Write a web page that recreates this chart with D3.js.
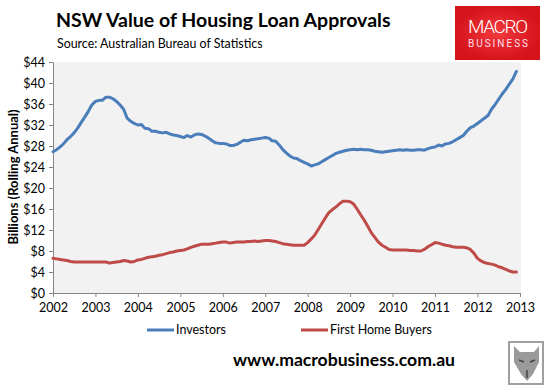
<!DOCTYPE html>
<html>
<head>
<meta charset="utf-8">
<script src="https://cdn.jsdelivr.net/npm/d3@7"></script>
<style>
  body { margin: 0; background: #fff; }
  svg { font-family: Lato, "Open Sans", sans-serif; }
</style>
</head>
<body>
<svg width="550" height="385"></svg>
<script>
// monthly values, Jan 2002 .. Dec 2012 ($ billions, rolling annual)
var investors = [
  26.9, 27.3, 27.8, 28.4, 29.2, 29.8, 30.5, 31.4, 32.5, 33.5, 34.6, 35.8,
  36.5, 36.7, 36.7, 37.3, 37.3, 37.0, 36.5, 35.8, 35.0, 33.3, 32.7, 32.3,
  32.0, 32.1, 31.4, 31.3, 30.8, 30.8, 30.6, 30.5, 30.6, 30.3, 30.1, 30.0,
  29.8, 29.6, 30.0, 29.7, 30.1, 30.3, 30.2, 29.9, 29.5, 29.0, 28.6, 28.5,
  28.5, 28.4, 28.1, 28.1, 28.3, 28.7, 29.1, 29.0, 29.2, 29.3, 29.4, 29.5,
  29.6, 29.5, 29.0, 28.9, 28.2, 27.3, 26.7, 26.1, 25.7, 25.6, 25.2, 24.9,
  24.6, 24.2, 24.4, 24.6, 25.0, 25.4, 25.8, 26.2, 26.6, 26.8, 27.0, 27.2,
  27.3, 27.4, 27.3, 27.4, 27.3, 27.3, 27.2, 27.0, 26.9, 26.8, 26.9, 27.0,
  27.1, 27.2, 27.3, 27.2, 27.3, 27.2, 27.2, 27.3, 27.3, 27.2, 27.5, 27.7,
  27.8, 28.2, 28.0, 28.4, 28.5, 28.8, 29.2, 29.6, 30.0, 30.8, 31.5, 31.8,
  32.3, 32.8, 33.3, 33.8, 35.0, 35.9, 36.9, 37.9, 38.8, 39.8, 40.8, 42.2
];
var firstHomeBuyers = [
  6.6, 6.5, 6.4, 6.3, 6.2, 6.0, 5.9, 5.9, 5.9, 5.9, 5.9, 5.9,
  5.9, 5.9, 5.9, 5.9, 5.7, 5.8, 5.9, 6.0, 6.2, 6.1, 5.9, 6.0,
  6.3, 6.4, 6.6, 6.8, 6.9, 7.0, 7.2, 7.3, 7.5, 7.7, 7.8, 8.0,
  8.1, 8.2, 8.4, 8.7, 8.9, 9.1, 9.3, 9.3, 9.3, 9.4, 9.5, 9.6,
  9.7, 9.7, 9.5, 9.6, 9.7, 9.7, 9.7, 9.8, 9.8, 9.9, 9.8, 9.9,
  10.0, 10.0, 9.9, 9.8, 9.6, 9.4, 9.3, 9.2, 9.1, 9.1, 9.1, 9.1,
  9.6, 10.3, 11.0, 12.1, 13.2, 14.3, 15.3, 15.9, 16.4, 17.0, 17.5, 17.5,
  17.4, 16.9, 16.0, 14.9, 13.9, 12.7, 11.5, 10.6, 9.7, 9.1, 8.7, 8.3,
  8.2, 8.2, 8.2, 8.2, 8.2, 8.1, 8.1, 8.0, 8.0, 8.3, 8.8, 9.2,
  9.6, 9.5, 9.3, 9.1, 9.0, 8.8, 8.7, 8.7, 8.7, 8.6, 8.3, 7.6,
  6.6, 6.1, 5.8, 5.6, 5.5, 5.3, 5.0, 4.8, 4.5, 4.2, 4.0, 4.0
];
var yearTicks = [2002, 2003, 2004, 2005, 2006, 2007, 2008, 2009, 2010, 2011, 2012, 2013];
var valueTicks = [0, 4, 8, 12, 16, 20, 24, 28, 32, 36, 40, 44];
var seriesNames = ['Investors', 'First Home Buyers'];
var seriesColors = ['#4a7ebb', '#be4b48'];

var svg = d3.select('svg');
var plotL = 53, plotR = 521, plotT = 62, plotB = 293;

var x = d3.scaleTime()
  .domain([new Date(2002, 0, 1), new Date(2013, 0, 1)])
  .range([plotL, 520]);
var y = d3.scaleLinear().domain([0, 44]).range([plotB, plotT]);

svg.append('rect')
  .attr('x', plotL).attr('y', plotT)
  .attr('width', plotR - plotL).attr('height', plotB - plotT)
  .attr('fill', '#f2f2f2');

var yAxis = svg.append('g')
  .attr('transform', 'translate(' + plotL + ',0)')
  .call(d3.axisLeft(y).tickValues(valueTicks).tickSize(4).tickPadding(4)
    .tickFormat(function(d) { return '$' + d; }));
var xAxis = svg.append('g')
  .attr('transform', 'translate(0,' + plotB + ')')
  .call(d3.axisBottom(x).tickValues(yearTicks.map(function(yr) { return new Date(yr, 0, 1); }))
    .tickSize(4).tickPadding(6).tickFormat(d3.timeFormat('%Y')));
[xAxis, yAxis].forEach(function(g) {
  g.select('.domain').attr('stroke', '#868686');
  g.selectAll('.tick line').attr('stroke', '#868686');
  g.selectAll('text').attr('fill', '#000').style('font-size', '12.5px')
    .style('font-family', 'Lato, sans-serif');
});

var line = d3.line()
  .x(function(d, i) { return x(new Date(2002, i, 1)); })
  .y(function(d) { return y(d); });

[investors, firstHomeBuyers].forEach(function(s, k) {
  svg.append('path')
    .datum(s)
    .attr('d', line)
    .attr('fill', 'none')
    .attr('stroke', seriesColors[k])
    .attr('stroke-width', 3)
    .attr('stroke-linejoin', 'round')
    .attr('stroke-linecap', 'round');
});

// titles
svg.append('text').attr('x', 56).attr('y', 27)
  .style('font-size', '19.5px').style('font-weight', 'bold')
  .text('NSW Value of Housing Loan Approvals');
svg.append('text').attr('x', 57).attr('y', 48)
  .style('font-size', '12.4px')
  .text('Source: Australian Bureau of Statistics');
svg.append('text')
  .attr('transform', 'translate(18,177) rotate(-90)')
  .attr('text-anchor', 'middle')
  .style('font-size', '13px').style('font-weight', 'bold')
  .text('Billions (Rolling Annual)');

// legend
var legendX = [147, 301];
seriesNames.forEach(function(n, k) {
  svg.append('line')
    .attr('x1', legendX[k]).attr('x2', legendX[k] + 27)
    .attr('y1', 330).attr('y2', 330)
    .attr('stroke', seriesColors[k]).attr('stroke-width', 3);
  svg.append('text')
    .attr('x', legendX[k] + 29).attr('y', 334)
    .style('font-size', '12.5px')
    .text(n);
});

// footer
svg.append('text').attr('x', 233).attr('y', 366)
  .style('font-size', '17.6px').style('font-weight', 'bold')
  .text('www.macrobusiness.com.au');

// logo
var grad = svg.append('defs').append('radialGradient').attr('id', 'logoGrad');
grad.append('stop').attr('offset', '0%').attr('stop-color', '#f23a3c');
grad.append('stop').attr('offset', '100%').attr('stop-color', '#d5141c');
svg.append('rect').attr('x', 455).attr('y', 6).attr('width', 85).attr('height', 54)
  .attr('fill', 'url(#logoGrad)');
svg.append('text').attr('x', 498).attr('y', 33).attr('text-anchor', 'middle')
  .style('font-family', 'Roboto, sans-serif').style('font-weight', 300)
  .style('font-size', '19px').attr('textLength', 60)
  .attr('fill', '#fff').text('MACRO');
svg.append('text').attr('x', 498).attr('y', 47).attr('text-anchor', 'middle')
  .style('font-family', 'Roboto, sans-serif').style('font-size', '10px')
  .attr('textLength', 60)
  .attr('fill', '#fde').text('BUSINESS');

// wolf badge
svg.append('rect').attr('x', 509).attr('y', 342).attr('width', 34).attr('height', 42)
  .attr('fill', '#fff').attr('stroke', '#a0a0a0').attr('stroke-width', 2);
svg.append('path')
  .attr('d', 'M514,346 L520,352 L534,352 L539,346 L539,362 L533,374 L527,381 L521,374 L514,362 Z')
  .attr('fill', '#9a9a9a');
svg.append('path')
  .attr('d', 'M519,360 L524,362 M535,360 L530,362 M527,370 L527,378')
  .attr('stroke', '#444').attr('stroke-width', 1.5);
</script>
</body>
</html>
